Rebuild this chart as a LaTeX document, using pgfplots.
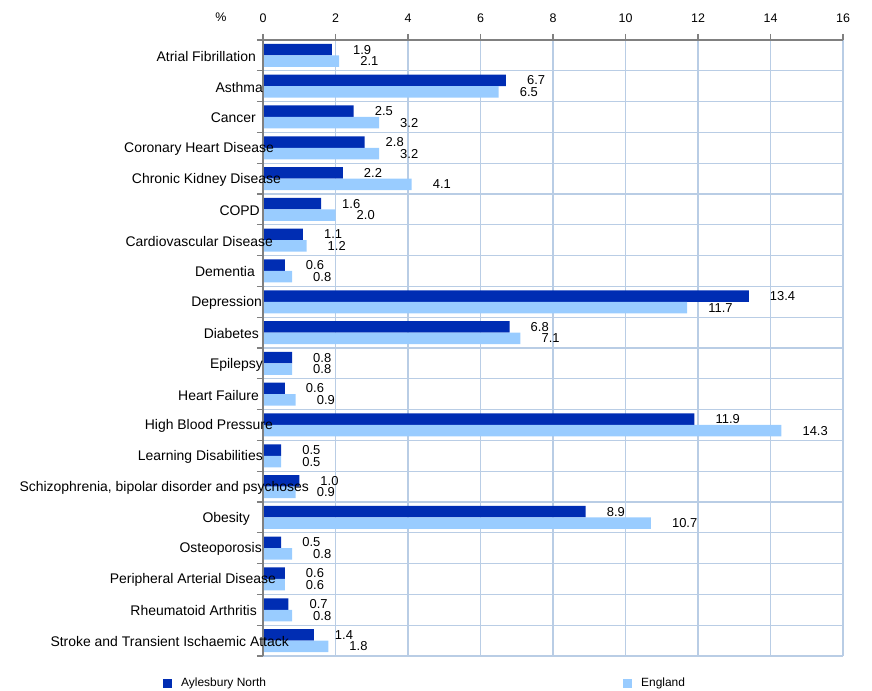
\documentclass[border=0pt]{standalone}
\usepackage{fontspec}
\setmainfont{Liberation Sans}
\usepackage{pgfplots}
\usepackage{pgfplotstable}
\pgfplotsset{compat=1.18}
\definecolor{darkbar}{HTML}{002DB3}
\definecolor{lightbar}{HTML}{99CCFF}
\definecolor{gridblue}{HTML}{B9CDE5}
\definecolor{axgray}{HTML}{808080}

\pgfplotsset{
  layers/labelsontop/.define layer set={
    axis background,axis grid,main,axis ticks,axis lines,axis tick labels,
    axis descriptions,axis foreground}{/pgfplots/layers/standard},
}

\pgfplotstableread{
y AN EN
19 1.9 2.1
18 6.7 6.5
17 2.5 3.2
16 2.8 3.2
15 2.2 4.1
14 1.6 2.0
13 1.1 1.2
12 0.6 0.8
11 13.4 11.7
10 6.8 7.1
9 0.8 0.8
8 0.6 0.9
7 11.9 14.3
6 0.5 0.5
5 1.0 0.9
4 8.9 10.7
3 0.5 0.8
2 0.6 0.6
1 0.7 0.8
0 1.4 1.8
}\data

\begin{document}
\begin{tikzpicture}
\begin{axis}[
  set layers=labelsontop,
  at={(0,0)}, anchor=south west,
  scale only axis, width=580bp, height=616bp,
  xmin=0, xmax=16, ymin=-0.5, ymax=19.5,
  axis x line*=top, axis y line*=left,
  axis line style={-, axgray, line width=1.2bp},
  xtick={0,2,...,16},
  ytick={0,...,19},
  yticklabels={
    {Stroke and Transient Ischaemic Attack\kern-33bp},
    {Rheumatoid Arthritis\kern-1bp},
    {Peripheral Arterial Disease\kern-20bp},
    {Osteoporosis\kern-6bp},
    {Obesity\kern6bp},
    {Schizophrenia, bipolar disorder and psychoses\kern-53bp},
    {Learning Disabilities\kern-7bp},
    {High Blood Pressure\kern-17bp},
    {Heart Failure\kern-3bp},
    {Epilepsy\kern-7bp},
    {Diabetes\kern-3bp},
    {Depression\kern-6bp},
    {Dementia\kern1bp},
    {Cardiovascular Disease\kern-17bp},
    {COPD\kern-4bp},
    {Chronic Kidney Disease\kern-25bp},
    {Coronary Heart Disease\kern-18bp},
    {Cancer},
    {Asthma\kern-7bp},
    {Atrial Fibrillation}},
  minor ytick={-0.5,0.5,...,19.5},
  xmajorgrids=true, yminorgrids=true, ymajorgrids=false,
  grid style={gridblue, line width=1.2bp},
  minor grid style={gridblue, line width=1.2bp},
  tick align=outside,
  major tick length=6bp, minor tick length=6bp,
  tick style={axgray, line width=1.2bp},
  every major y tick/.style={draw=none},
  x tick label style={font=\fontsize{12.5}{14}\selectfont, yshift=8bp},
  y tick label style={font=\fontsize{14}{16}\selectfont, inner sep=0pt, xshift=-1bp, yshift=-1bp},
  /pgf/number format/assume math mode=true,
  legend columns=2,
  legend style={draw=none, fill=none, at={(axis description cs:0,0)}, anchor=north west,
    xshift=-100bp, yshift=-20bp, font=\fontsize{12}{14}\selectfont, inner sep=0pt},
  legend cell align=left,
  legend image code/.code={\fill[#1] (0bp,-4.5bp) rectangle (9bp,4.5bp);},
  nodes near coords={\pgfmathprintnumber[fixed,fixed zerofill,precision=1]{\pgfplotspointmeta}},
  point meta=x,
  nodes near coords style={anchor=west, inner sep=0pt, xshift=21bp, text=black,
    font=\fontsize{13}{14}\selectfont, /pgf/number format/assume math mode=true},
]
\addplot[xbar, bar width=11.5bp, bar shift=5.75bp, fill=darkbar, draw=none,
  every node near coord/.append style={yshift=5.75bp}]
  table[x=AN, y=y]{\data};
\addlegendentry{\kern7bp\makebox[440bp][l]{Aylesbury North}}
\addplot[xbar, bar width=11.5bp, bar shift=-5.75bp, fill=lightbar, draw=none,
  every node near coord/.append style={yshift=-5.75bp}]
  table[x=EN, y=y]{\data};
\addlegendentry{\kern7bp England}
\end{axis}
\node[font=\fontsize{12.5}{14}\selectfont] at (-42bp,639bp) {\%};
\path (-263bp,-33bp) rectangle (609bp,656bp);
\end{tikzpicture}
\end{document}
